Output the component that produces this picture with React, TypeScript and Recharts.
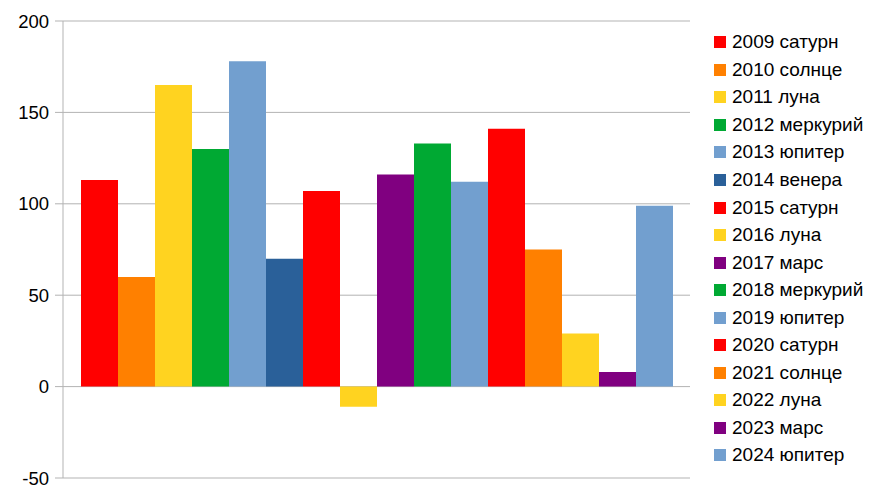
import { BarChart, Bar, XAxis, YAxis, CartesianGrid } from "recharts";

const seriesNames = [
  "2009 сатурн", "2010 солнце", "2011 луна", "2012 меркурий",
  "2013 юпитер", "2014 венера", "2015 сатурн", "2016 луна",
  "2017 марс", "2018 меркурий", "2019 юпитер", "2020 сатурн",
  "2021 солнце", "2022 луна", "2023 марс", "2024 юпитер",
];
const seriesValues = [113, 60, 165, 130, 178, 70, 107, -11, 116, 133, 112, 141, 75, 29, 8, 99];
const seriesColors = [
  "#ff0000", "#ff8000", "#ffd320", "#00a933", "#729fcf", "#2a6099", "#ff0000", "#ffd320",
  "#800080", "#00a933", "#729fcf", "#ff0000", "#ff8000", "#ffd320", "#800080", "#729fcf",
];
const yTicks = [-50, 0, 50, 100, 150, 200];

const row: Record<string, string | number> = { name: "" };
seriesNames.forEach((n, i) => {
  row["s" + i] = seriesValues[i];
});
const data = [row];

const font = "'Liberation Sans', Arial, sans-serif";

function LegendBox() {
  return (
    <div style={{ position: "absolute", left: 714, top: 28.5, fontFamily: font, fontSize: 19, color: "#000", whiteSpace: "nowrap" }}>
      {seriesNames.map((n, i) => (
        <div key={i} style={{ height: 27.56, display: "flex", alignItems: "center" }}>
          <span style={{ width: 12, height: 12, background: seriesColors[i], marginRight: 6, display: "inline-block" }} />
          <span>{n}</span>
        </div>
      ))}
    </div>
  );
}

export default function App() {
  return (
    <div style={{ position: "absolute", left: 0, top: 0, width: 881, height: 500, background: "#fff" }}>
      <BarChart
        width={881}
        height={500}
        data={data}
        margin={{ top: 21, right: 191, bottom: 22, left: 0 }}
        barGap={0}
        barCategoryGap={18}
      >
        <CartesianGrid vertical={false} stroke="#b3b3b3" />
        <XAxis dataKey="name" hide />
        <YAxis
          width={63}
          domain={[-50, 200]}
          ticks={yTicks}
          interval={0}
          tickSize={8}
          tickMargin={6}
          axisLine={{ stroke: "#b3b3b3" }}
          tickLine={{ stroke: "#b3b3b3" }}
          tick={{ fill: "#000", fontSize: 18.5, fontFamily: font }}
        />
        <YAxis
          yAxisId="r"
          orientation="right"
          width={0}
          domain={[-50, 200]}
          tick={false}
          tickLine={false}
          axisLine={{ stroke: "#b3b3b3" }}
        />
        {seriesNames.map((n, i) => (
          <Bar key={i} dataKey={"s" + i} name={n} fill={seriesColors[i]} isAnimationActive={false} />
        ))}
      </BarChart>
      <LegendBox />
    </div>
  );
}
